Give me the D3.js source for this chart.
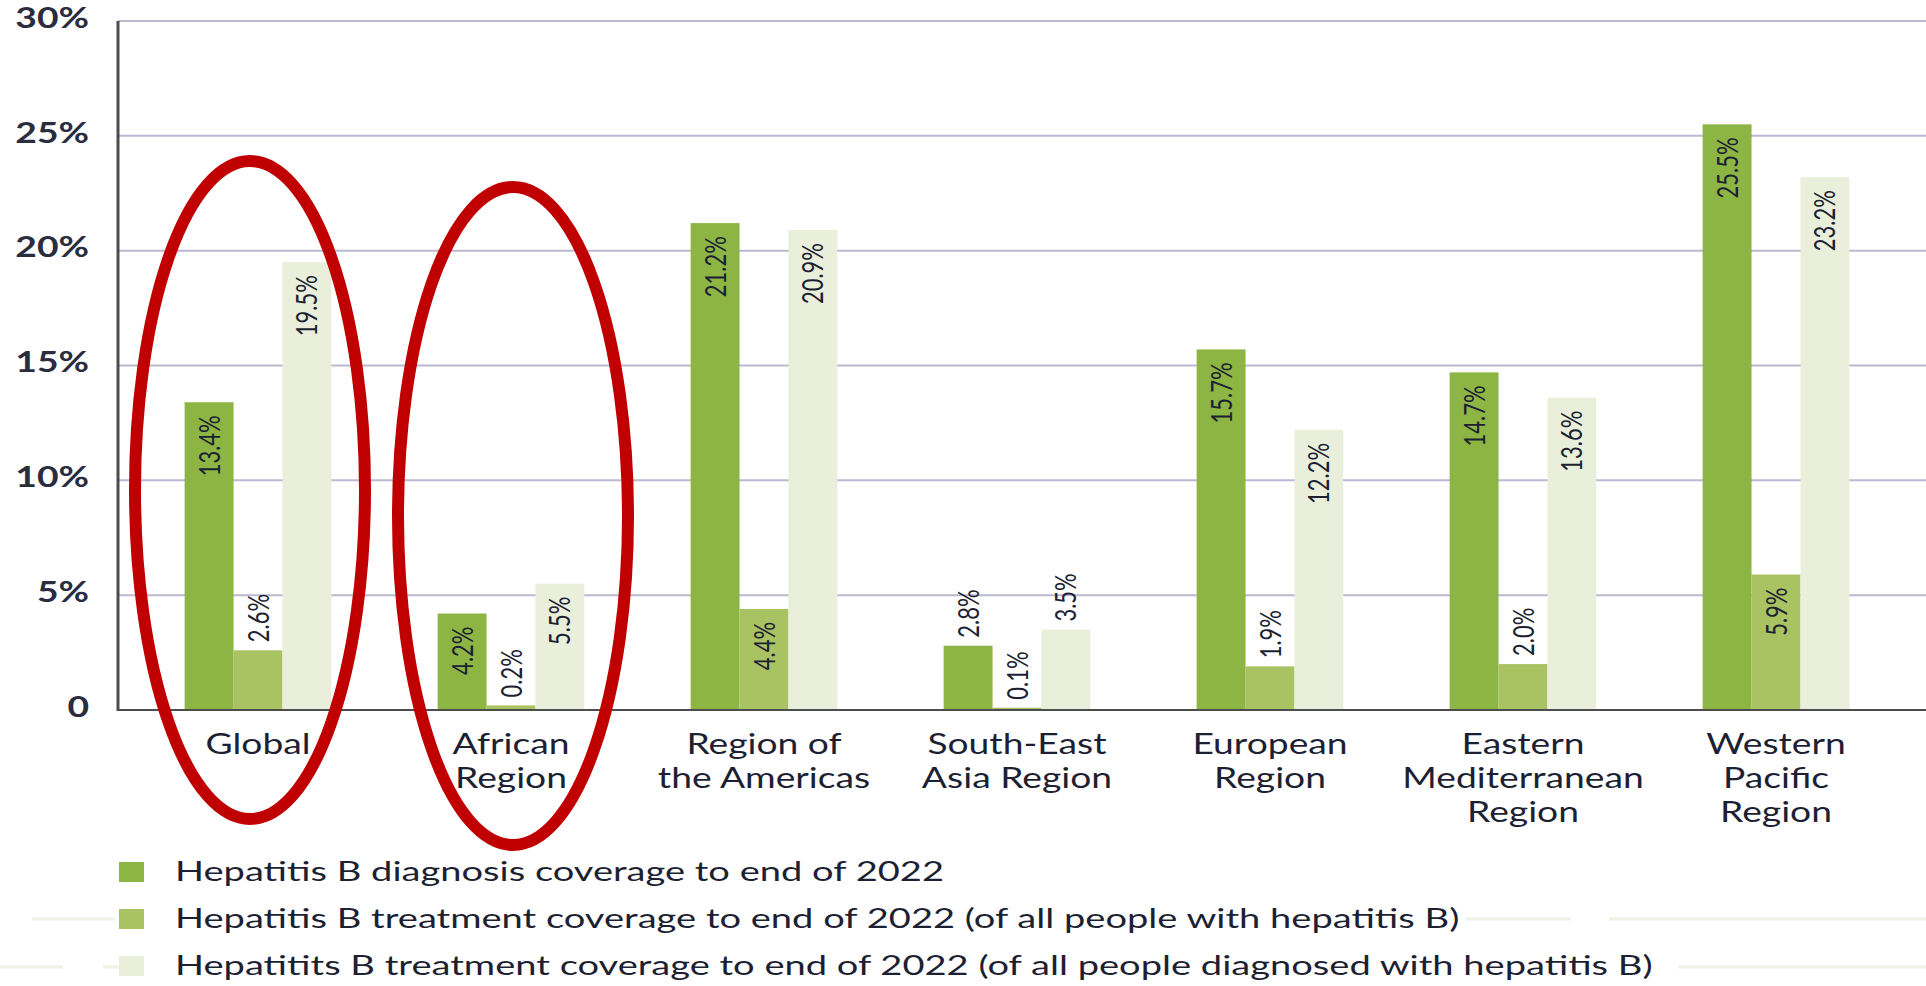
<!DOCTYPE html>
<html>
<head>
<meta charset="utf-8">
<script src="https://cdn.jsdelivr.net/npm/d3@7"></script>
<style>
	html, body { margin: 0; padding: 0; background: #fff; overflow: hidden; }
	text { font-family: Lato, "Open Sans", sans-serif; fill: #1d1f33; }
</style>
</head>
<body>
<script>
// data
const regions = ["Global", "African Region", "Region of the Americas", "South-East Asia Region",
	"European Region", "Eastern Mediterranean Region", "Western Pacific Region"];
const regionLines = [["Global"], ["African", "Region"], ["Region of", "the Americas"], ["South-East", "Asia Region"],
	["European", "Region"], ["Eastern", "Mediterranean", "Region"], ["Western", "Pacific", "Region"]];
const diagnosis = [13.4, 4.2, 21.2, 2.8, 15.7, 14.7, 25.5];
const treatmentAll = [2.6, 0.2, 4.4, 0.1, 1.9, 2.0, 5.9];
const treatmentDiagnosed = [19.5, 5.5, 20.9, 3.5, 12.2, 13.6, 23.2];
const seriesNames = [
	"Hepatitis B diagnosis coverage to end of 2022",
	"Hepatitis B treatment coverage to end of 2022 (of all people with hepatitis B)",
	"Hepatitits B treatment coverage to end of 2022 (of all people diagnosed with hepatitis B)"
];
const seriesColors = ["#8db543", "#a9c262", "#e9efdb"];
const yTicks = [0, 5, 10, 15, 20, 25, 30];
const circled = ["Global", "African Region"];

document.addEventListener('DOMContentLoaded', () => {
	const width = 1926;
	const height = 986;
	const SX = 1.33; // the source picture is stretched sideways

	const svg = d3.select("body").append("svg")
		.attr("width", width)
		.attr("height", height);

	const left = 118, right = width, top = 21, bottom = 710;

	const y = d3.scaleLinear().domain([0, 30]).range([bottom, top]);
	const x0 = d3.scaleBand().domain(regions)
		.range([131.5, 1902.5])
		.paddingInner(0.42)
		.paddingOuter(0.21);
	const keys = [0, 1, 2];
	const x1 = d3.scaleBand().domain(keys).range([0, x0.bandwidth()]);

	const series = [diagnosis, treatmentAll, treatmentDiagnosed];
	const rows = regions.map((r, i) => ({ region: r, values: series.map(s => s[i]) }));

	// gridlines
	svg.append("g")
		.selectAll("line")
		.data(yTicks.filter(d => d > 0))
		.enter().append("line")
		.attr("x1", left).attr("x2", right)
		.attr("y1", d => y(d)).attr("y2", d => y(d))
		.attr("stroke", "#bcb8d2")
		.attr("stroke-width", 2);

	// y tick labels
	svg.append("g")
		.selectAll("text")
		.data(yTicks)
		.enter().append("text")
		.attr("transform", d => `translate(89,${y(d) - 3}) scale(${SX},1)`)
		.attr("text-anchor", "end")
		.attr("dy", "0.35em")
		.attr("font-size", "28px")
		.attr("font-weight", 700)
		.style("fill", "#2a2c40")
		.text(d => d === 0 ? "0" : d + "%");

	// bars
	const group = svg.append("g")
		.selectAll("g")
		.data(rows)
		.enter().append("g")
		.attr("transform", d => `translate(${x0(d.region)},0)`);

	group.selectAll("rect")
		.data(d => d.values.map((v, k) => ({ k, v })))
		.enter().append("rect")
		.attr("x", d => x1(d.k))
		.attr("y", d => y(d.v))
		.attr("width", x1.bandwidth())
		.attr("height", d => y(0) - y(d.v))
		.attr("fill", d => seriesColors[d.k]);

	// value labels, rotated; inside the bar when it is tall enough
	group.selectAll("text")
		.data(d => d.values.map((v, k) => ({ k, v })))
		.enter().append("text")
		.attr("transform", d => {
			const cx = x1(d.k) + x1.bandwidth() / 2;
			const inside = d.v >= 4;
			const yy = inside ? y(d.v) + 13 : y(d.v) - 8;
			return `translate(${cx},${yy}) scale(${SX},1) rotate(-90)`;
		})
		.attr("text-anchor", d => d.v >= 4 ? "end" : "start")
		.attr("dy", "0.36em")
		.attr("font-size", "22px")
		.text(d => d.v.toFixed(1) + "%");

	// axis lines
	svg.append("line")
		.attr("x1", left).attr("x2", right)
		.attr("y1", bottom).attr("y2", bottom)
		.attr("stroke", "#4d4d4d").attr("stroke-width", 2);
	svg.append("line")
		.attr("x1", left).attr("x2", left)
		.attr("y1", top).attr("y2", bottom + 1)
		.attr("stroke", "#4d4d4d").attr("stroke-width", 3);

	// category labels
	const cat = svg.append("g")
		.selectAll("text")
		.data(regions)
		.enter().append("text")
		.attr("transform", d => `translate(${x0(d) + x0.bandwidth() / 2},754) scale(${SX},1)`)
		.attr("text-anchor", "middle")
		.attr("font-size", "28px");
	cat.selectAll("tspan")
		.data((d, i) => regionLines[i])
		.enter().append("tspan")
		.attr("x", 0)
		.attr("y", (d, i) => i * 34)
		.text(d => d);

	// red ellipses around the first two groups
	svg.append("g")
		.selectAll("ellipse")
		.data(circled)
		.enter().append("ellipse")
		.attr("cx", d => x0(d) + x0.bandwidth() / 2 - 8 + (d === "African Region" ? 10 : 0))
		.attr("cy", (d, i) => i === 0 ? 490 : 516)
		.attr("rx", 115)
		.attr("ry", 329)
		.attr("fill", "none")
		.attr("stroke", "#c00000")
		.attr("stroke-width", 12);

	// faint background strokes behind the legend
	const faint = [[32, 115, 919], [1466, 1571, 919], [1609, 1926, 919], [0, 63, 967], [103, 130, 967], [1678, 1926, 967]];
	svg.append("g")
		.selectAll("line")
		.data(faint)
		.enter().append("line")
		.attr("x1", d => d[0]).attr("x2", d => d[1])
		.attr("y1", d => d[2]).attr("y2", d => d[2])
		.attr("stroke", "#eef3e3")
		.attr("stroke-width", 3);

	// legend
	const legend = svg.append("g")
		.selectAll("g")
		.data(seriesNames)
		.enter().append("g")
		.attr("transform", (d, i) => `translate(119,${862 + i * 47})`);
	legend.append("rect")
		.attr("width", 25).attr("height", 20)
		.attr("fill", (d, i) => seriesColors[i]);
	legend.append("text")
		.attr("transform", `translate(56,19) scale(1.41,1)`)
		.attr("font-size", "27px")
		.text(d => d);
});
</script>
</body>
</html>
